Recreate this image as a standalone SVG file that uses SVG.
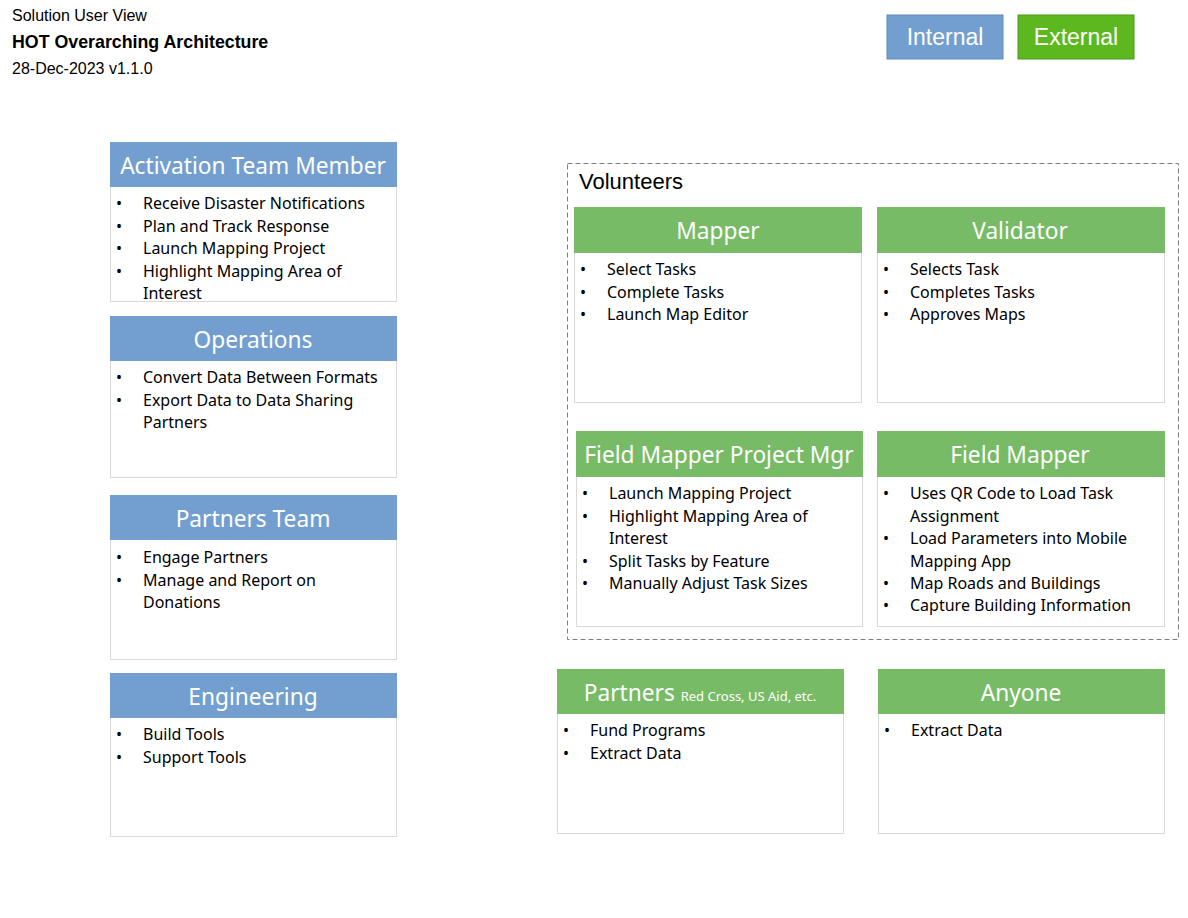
<svg xmlns="http://www.w3.org/2000/svg" width="1188" height="918" viewBox="0 0 1188 918">
<style>
.t{font-family:"Liberation Sans",Arial,sans-serif;fill:#000}
.hb{fill:#729fcf}
.hg{fill:#77bb66}
.body{fill:#fff;stroke:#d9d9d9;stroke-width:1}
.ht{font-family:"Noto Sans","Open Sans",sans-serif;font-size:22.7px;fill:#fff;text-anchor:middle}
.li{font-family:"Noto Sans","Open Sans",sans-serif;font-size:16px;fill:#000}
.leg{font-family:"Liberation Sans",Arial,sans-serif;font-size:23px;fill:#fff;text-anchor:middle}
</style>
<rect width="1188" height="918" fill="#fff"/>
<g id="title">
<text class="t" x="12" y="21" font-size="16">Solution User View</text>
<text class="t" x="12" y="48" font-size="17.8" font-weight="bold">HOT Overarching Architecture</text>
<text class="t" x="12" y="74" font-size="16">28-Dec-2023 v1.1.0</text>
</g>
<g id="legend-internal">
<rect x="887" y="15" width="116" height="44" fill="#729fcf" stroke="#5f8bbd" stroke-width="1"/>
<text class="leg" x="945" y="45">Internal</text>
</g>
<g id="legend-external">
<rect x="1018" y="15" width="116" height="44" fill="#5cb81e" stroke="#4a9a15" stroke-width="1"/>
<text class="leg" x="1076" y="45">External</text>
</g>
<g id="volunteers">
<rect x="567.5" y="163.5" width="611" height="476" fill="none" stroke="#808080" stroke-dasharray="5,3"/>
<text class="t" x="579" y="189" font-size="22">Volunteers</text>
</g>
<g id="activation">
<rect class="body" x="110.5" y="142.5" width="286" height="159"/>
<rect class="hb" x="110" y="142" width="287" height="45"/>
<text class="ht" x="253" y="174">Activation Team Member</text>
<text class="li"><tspan x="116" y="209">•</tspan><tspan x="143" y="209">Receive Disaster Notifications</tspan><tspan x="116" y="232">•</tspan><tspan x="143" y="232">Plan and Track Response</tspan><tspan x="116" y="254">•</tspan><tspan x="143" y="254">Launch Mapping Project</tspan><tspan x="116" y="277">•</tspan><tspan x="143" y="277">Highlight Mapping Area of</tspan><tspan x="143" y="299">Interest</tspan></text>
</g>
<g id="operations">
<rect class="body" x="110.5" y="316.5" width="286" height="161"/>
<rect class="hb" x="110" y="316" width="287" height="45"/>
<text class="ht" x="253" y="348">Operations</text>
<text class="li"><tspan x="116" y="383">•</tspan><tspan x="143" y="383">Convert Data Between Formats</tspan><tspan x="116" y="406">•</tspan><tspan x="143" y="406">Export Data to Data Sharing</tspan><tspan x="143" y="428">Partners</tspan></text>
</g>
<g id="partners-team">
<rect class="body" x="110.5" y="495.5" width="286" height="164"/>
<rect class="hb" x="110" y="495" width="287" height="45"/>
<text class="ht" x="253" y="527">Partners Team</text>
<text class="li"><tspan x="116" y="563">•</tspan><tspan x="143" y="563">Engage Partners</tspan><tspan x="116" y="586">•</tspan><tspan x="143" y="586">Manage and Report on</tspan><tspan x="143" y="608">Donations</tspan></text>
</g>
<g id="engineering">
<rect class="body" x="110.5" y="673.5" width="286" height="163"/>
<rect class="hb" x="110" y="673" width="287" height="45"/>
<text class="ht" x="253" y="705">Engineering</text>
<text class="li"><tspan x="116" y="740">•</tspan><tspan x="143" y="740">Build Tools</tspan><tspan x="116" y="763">•</tspan><tspan x="143" y="763">Support Tools</tspan></text>
</g>
<g id="mapper">
<rect class="body" x="574.5" y="207.5" width="287" height="195"/>
<rect class="hg" x="574" y="207" width="288" height="46"/>
<text class="ht" x="718" y="239">Mapper</text>
<text class="li"><tspan x="580" y="275">•</tspan><tspan x="607" y="275">Select Tasks</tspan><tspan x="580" y="298">•</tspan><tspan x="607" y="298">Complete Tasks</tspan><tspan x="580" y="320">•</tspan><tspan x="607" y="320">Launch Map Editor</tspan></text>
</g>
<g id="validator">
<rect class="body" x="877.5" y="207.5" width="287" height="195"/>
<rect class="hg" x="877" y="207" width="288" height="46"/>
<text class="ht" x="1020" y="239">Validator</text>
<text class="li"><tspan x="883" y="275">•</tspan><tspan x="910" y="275">Selects Task</tspan><tspan x="883" y="298">•</tspan><tspan x="910" y="298">Completes Tasks</tspan><tspan x="883" y="320">•</tspan><tspan x="910" y="320">Approves Maps</tspan></text>
</g>
<g id="field-mapper-pm">
<rect class="body" x="576.5" y="431.5" width="286" height="195"/>
<rect class="hg" x="576" y="431" width="287" height="46"/>
<text class="ht" x="719" y="463">Field Mapper Project Mgr</text>
<text class="li"><tspan x="582" y="499">•</tspan><tspan x="609" y="499">Launch Mapping Project</tspan><tspan x="582" y="522">•</tspan><tspan x="609" y="522">Highlight Mapping Area of</tspan><tspan x="609" y="544">Interest</tspan><tspan x="582" y="567">•</tspan><tspan x="609" y="567">Split Tasks by Feature</tspan><tspan x="582" y="589">•</tspan><tspan x="609" y="589">Manually Adjust Task Sizes</tspan></text>
</g>
<g id="field-mapper">
<rect class="body" x="877.5" y="431.5" width="287" height="195"/>
<rect class="hg" x="877" y="431" width="288" height="46"/>
<text class="ht" x="1020" y="463">Field Mapper</text>
<text class="li"><tspan x="883" y="499">•</tspan><tspan x="910" y="499">Uses QR Code to Load Task</tspan><tspan x="910" y="522">Assignment</tspan><tspan x="883" y="544">•</tspan><tspan x="910" y="544">Load Parameters into Mobile</tspan><tspan x="910" y="567">Mapping App</tspan><tspan x="883" y="589">•</tspan><tspan x="910" y="589">Map Roads and Buildings</tspan><tspan x="883" y="611">•</tspan><tspan x="910" y="611">Capture Building Information</tspan></text>
</g>
<g id="partners">
<rect class="body" x="557.5" y="669.5" width="286" height="164"/>
<rect class="hg" x="557" y="669" width="287" height="45"/>
<text class="ht" x="700" y="701">Partners <tspan font-size="13">Red Cross, US Aid, etc.</tspan></text>
<text class="li"><tspan x="563" y="736">•</tspan><tspan x="590" y="736">Fund Programs</tspan><tspan x="563" y="759">•</tspan><tspan x="590" y="759">Extract Data</tspan></text>
</g>
<g id="anyone">
<rect class="body" x="878.5" y="669.5" width="286" height="164"/>
<rect class="hg" x="878" y="669" width="287" height="45"/>
<text class="ht" x="1021" y="701">Anyone</text>
<text class="li"><tspan x="884" y="736">•</tspan><tspan x="911" y="736">Extract Data</tspan></text>
</g>
<g id="connectors"/>
</svg>
